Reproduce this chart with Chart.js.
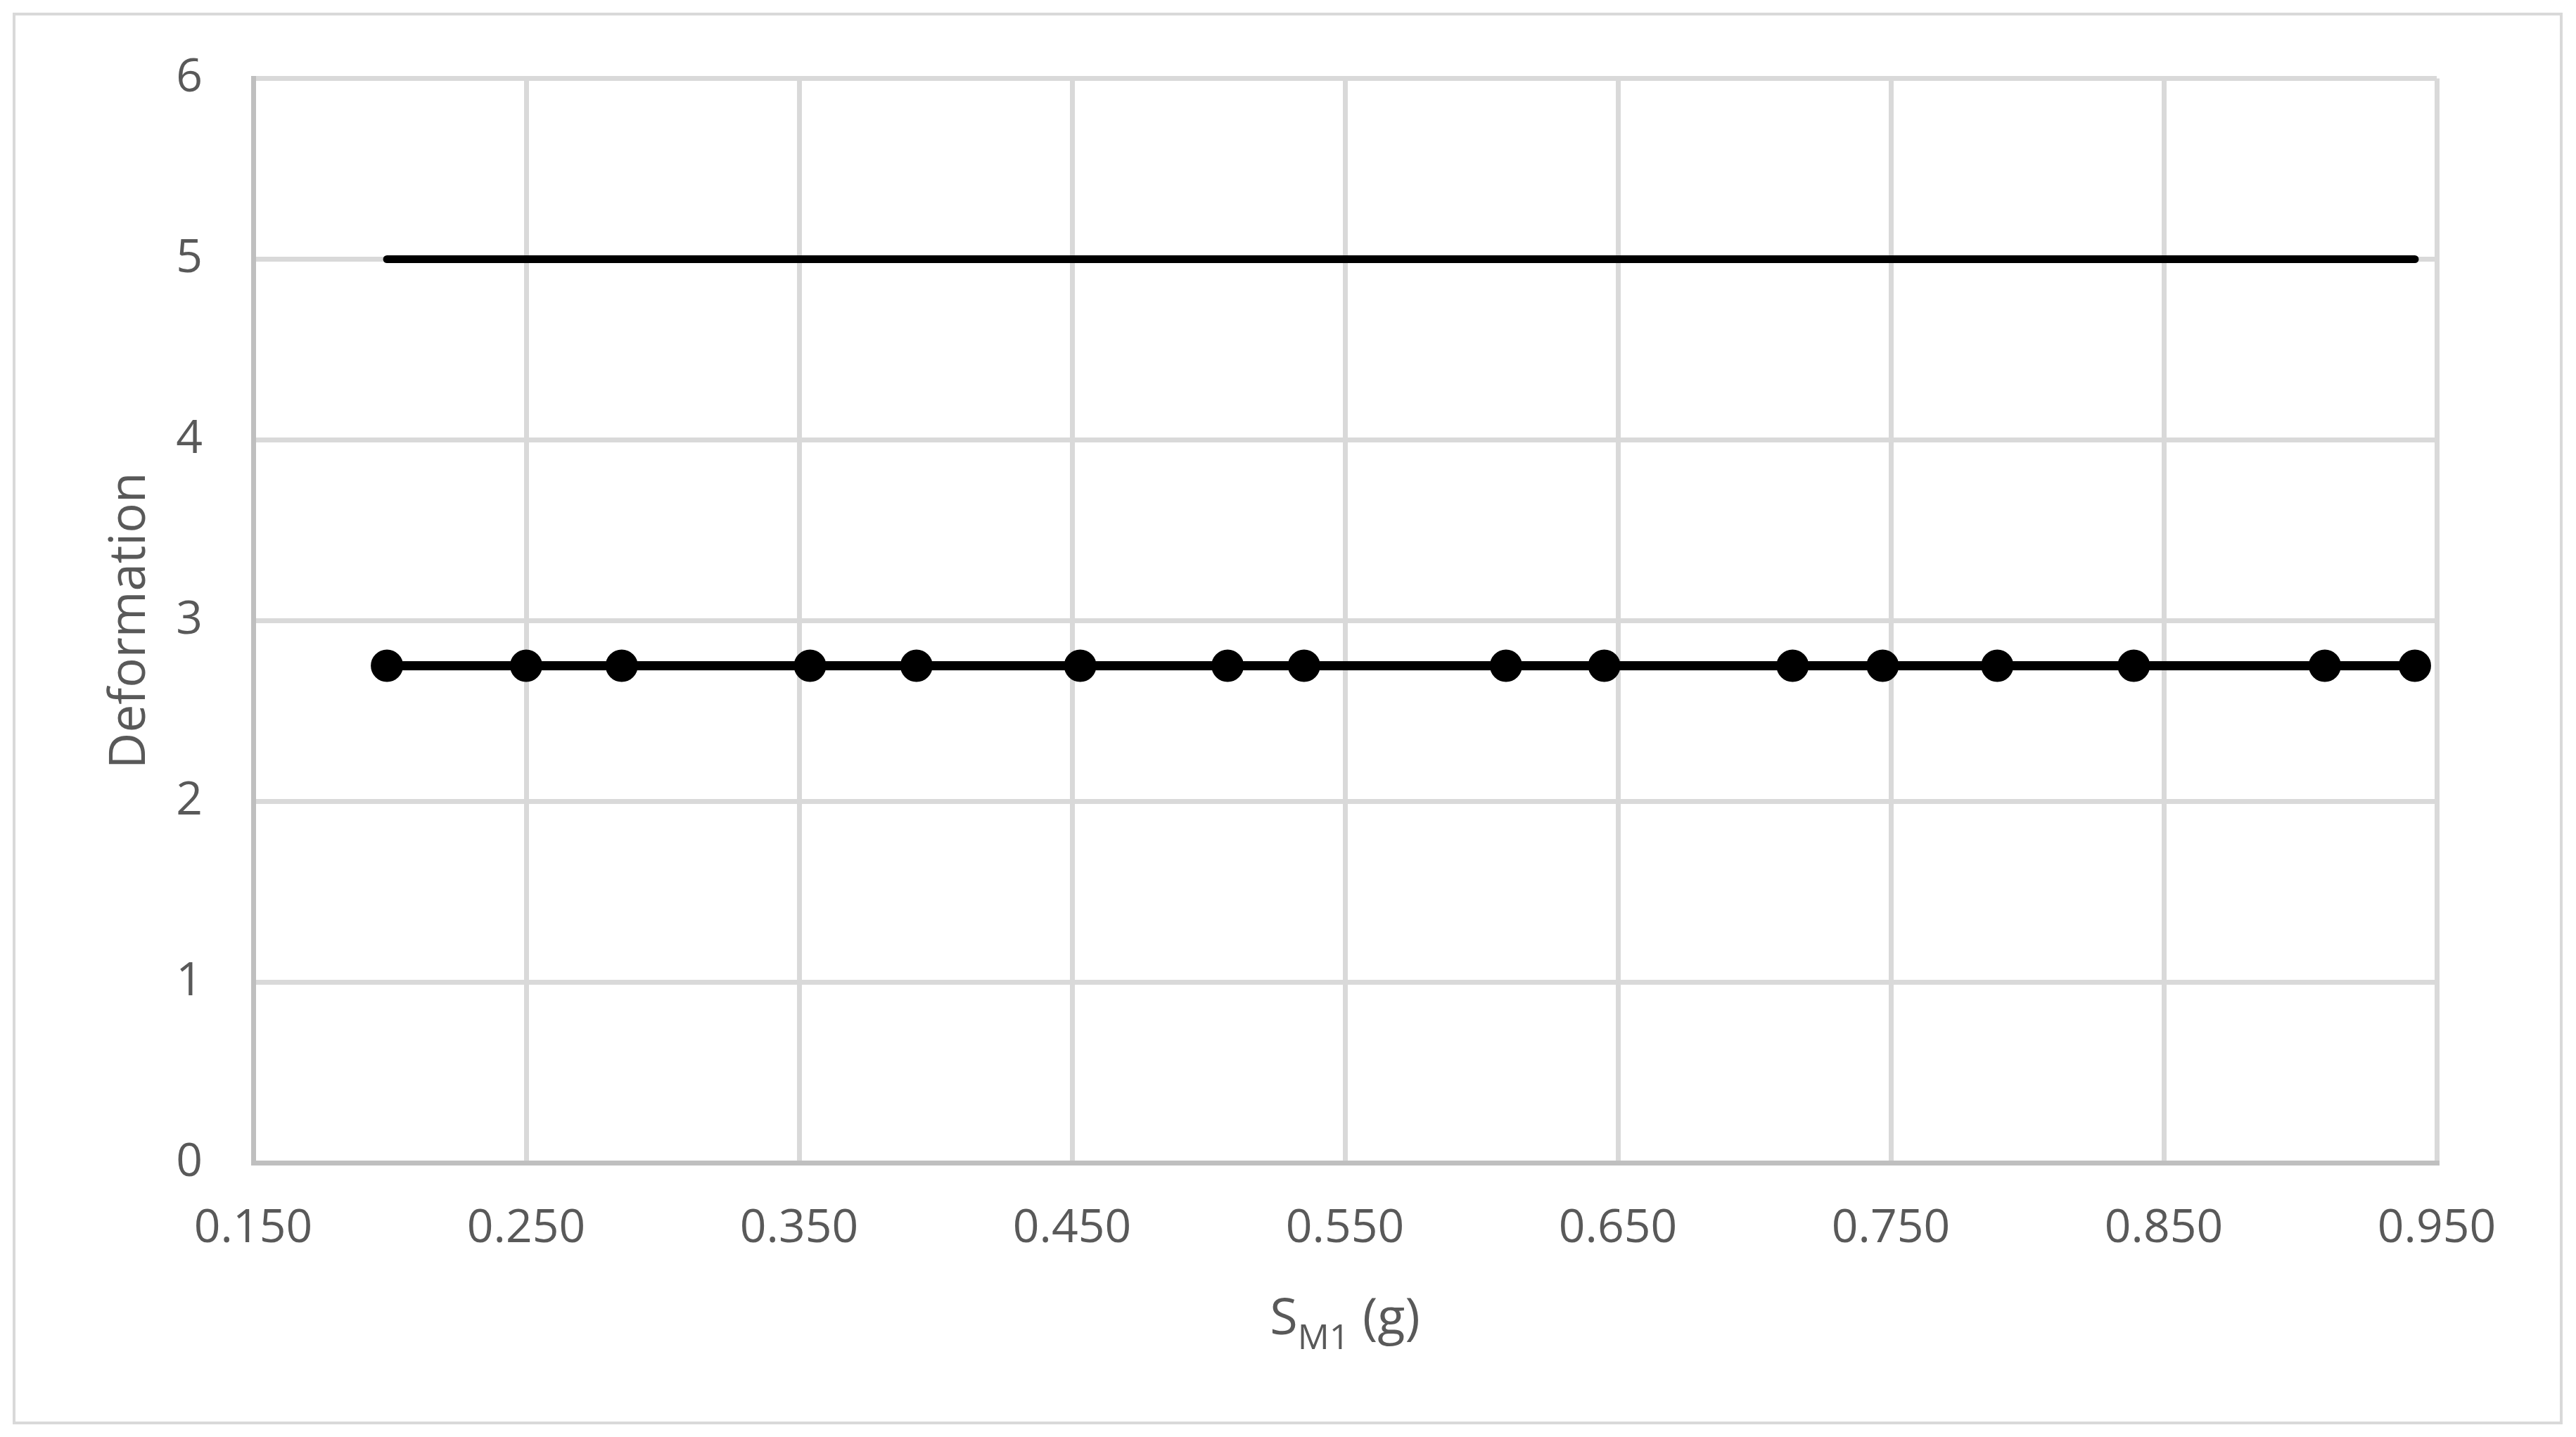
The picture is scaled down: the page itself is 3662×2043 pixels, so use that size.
<!DOCTYPE html>
<html>
<head>
<meta charset="utf-8">
<script src="https://cdn.jsdelivr.net/npm/chart.js@4.4.1/dist/chart.umd.min.js"></script>
<style>
  html, body { margin: 0; padding: 0; background: #fff; overflow: hidden; }
  canvas { display: block; }
</style>
</head>
<body>
<canvas id="grafico" width="3662" height="2043"></canvas>
<script>
// datos
const sm1 = [0.199, 0.250, 0.285, 0.354, 0.393, 0.453, 0.507, 0.535, 0.609, 0.645, 0.714, 0.747, 0.789, 0.839, 0.909, 0.942];
const deformacion = [2.75, 2.75, 2.75, 2.75, 2.75, 2.75, 2.75, 2.75, 2.75, 2.75, 2.75, 2.75, 2.75, 2.75, 2.75, 2.75];
const limite = [5, 5, 5, 5, 5, 5, 5, 5, 5, 5, 5, 5, 5, 5, 5, 5];
const xTicks = [0.150, 0.250, 0.350, 0.450, 0.550, 0.650, 0.750, 0.850, 0.950];
const yTicks = [0, 1, 2, 3, 4, 5, 6];

const gris = "#595959";
const fuente = "'Open Sans', 'Noto Sans', sans-serif";

const marco = {
    id: "marco",
    beforeDraw(chart) {
        const ctx = chart.ctx;
        ctx.save();
        ctx.fillStyle = "#fff";
        ctx.fillRect(0, 0, chart.width, chart.height);
        ctx.strokeStyle = "#d9d9d9";
        ctx.lineWidth = 4;
        ctx.strokeRect(20, 20, 3621, 2003);
        ctx.restore();
    }
};

// titulos de ejes (S con subindice M1)
const titulos = {
    id: "titulos",
    afterDraw(chart) {
        const ctx = chart.ctx;
        const area = chart.chartArea;
        ctx.save();
        ctx.fillStyle = gris;
        ctx.textBaseline = "alphabetic";
        ctx.textAlign = "left";
        const grande = "72px " + fuente;
        const chico = "50px " + fuente;
        ctx.font = grande;
        const wS = ctx.measureText("S").width;
        const wG = ctx.measureText(" (g)").width;
        ctx.font = chico;
        const wM = ctx.measureText("M1").width;
        const total = wS + wM + wG;
        let x = (area.left + area.right) / 2 - total / 2;
        const base = chart.scales.x.top + 244;
        ctx.font = grande;
        ctx.fillText("S", x, base);
        x += wS;
        ctx.font = chico;
        ctx.fillText("M1", x, base + 21);
        x += wM;
        ctx.font = grande;
        ctx.fillText(" (g)", x, base);

        ctx.translate(206, (area.top + area.bottom) / 2);
        ctx.rotate(-Math.PI / 2);
        ctx.textAlign = "center";
        ctx.font = "71px " + fuente;
        ctx.fillText("Deformation", 0, 0);
        ctx.restore();
    }
};

const grafico = document.getElementById("grafico").getContext("2d");
const myChart = new Chart(grafico, {
    type: "scatter",
    data: {
        datasets: [
            {
                label: "Limite",
                data: sm1.map((x, i) => ({ x: x, y: limite[i] })),
                showLine: true,
                borderColor: "#000",
                borderWidth: 11,
                borderCapStyle: "round",
                pointRadius: 0,
                pointHoverRadius: 0
            },
            {
                label: "Deformation",
                data: sm1.map((x, i) => ({ x: x, y: deformacion[i] })),
                showLine: true,
                borderColor: "#000",
                borderWidth: 13,
                backgroundColor: "#000",
                pointRadius: 22,
                pointBorderWidth: 2,
                pointBackgroundColor: "#000",
                pointBorderColor: "#000"
            }
        ]
    },
    options: {
        responsive: false,
        devicePixelRatio: 1,
        animation: false,
        events: [],
        layout: { padding: { left: 0, top: 110, right: 198, bottom: 0 } },
        plugins: {
            legend: { display: false },
            tooltip: { enabled: false }
        },
        scales: {
            x: {
                type: "linear",
                min: 0.15,
                max: 0.95,
                afterBuildTicks: (scale) => { scale.ticks = xTicks.map(v => ({ value: v })); },
                afterFit: (scale) => { scale.height = 390; },
                grid: { color: "#d9d9d9", lineWidth: 7, drawTicks: false },
                border: { color: "#bfbfbf", width: 7 },
                ticks: {
                    color: gris,
                    padding: 55,
                    font: { family: fuente, size: 66 },
                    callback: (v) => Number(v).toFixed(3)
                }
            },
            y: {
                min: 0,
                max: 6,
                afterBuildTicks: (scale) => { scale.ticks = yTicks.map(v => ({ value: v })); },
                afterFit: (scale) => { scale.width = 360; },
                grid: { color: "#d9d9d9", lineWidth: 7, drawTicks: false },
                border: { color: "#bfbfbf", width: 7 },
                ticks: {
                    color: gris,
                    padding: 72,
                    font: { family: fuente, size: 66 }
                }
            }
        }
    },
    plugins: [marco, titulos]
});
</script>
</body>
</html>
